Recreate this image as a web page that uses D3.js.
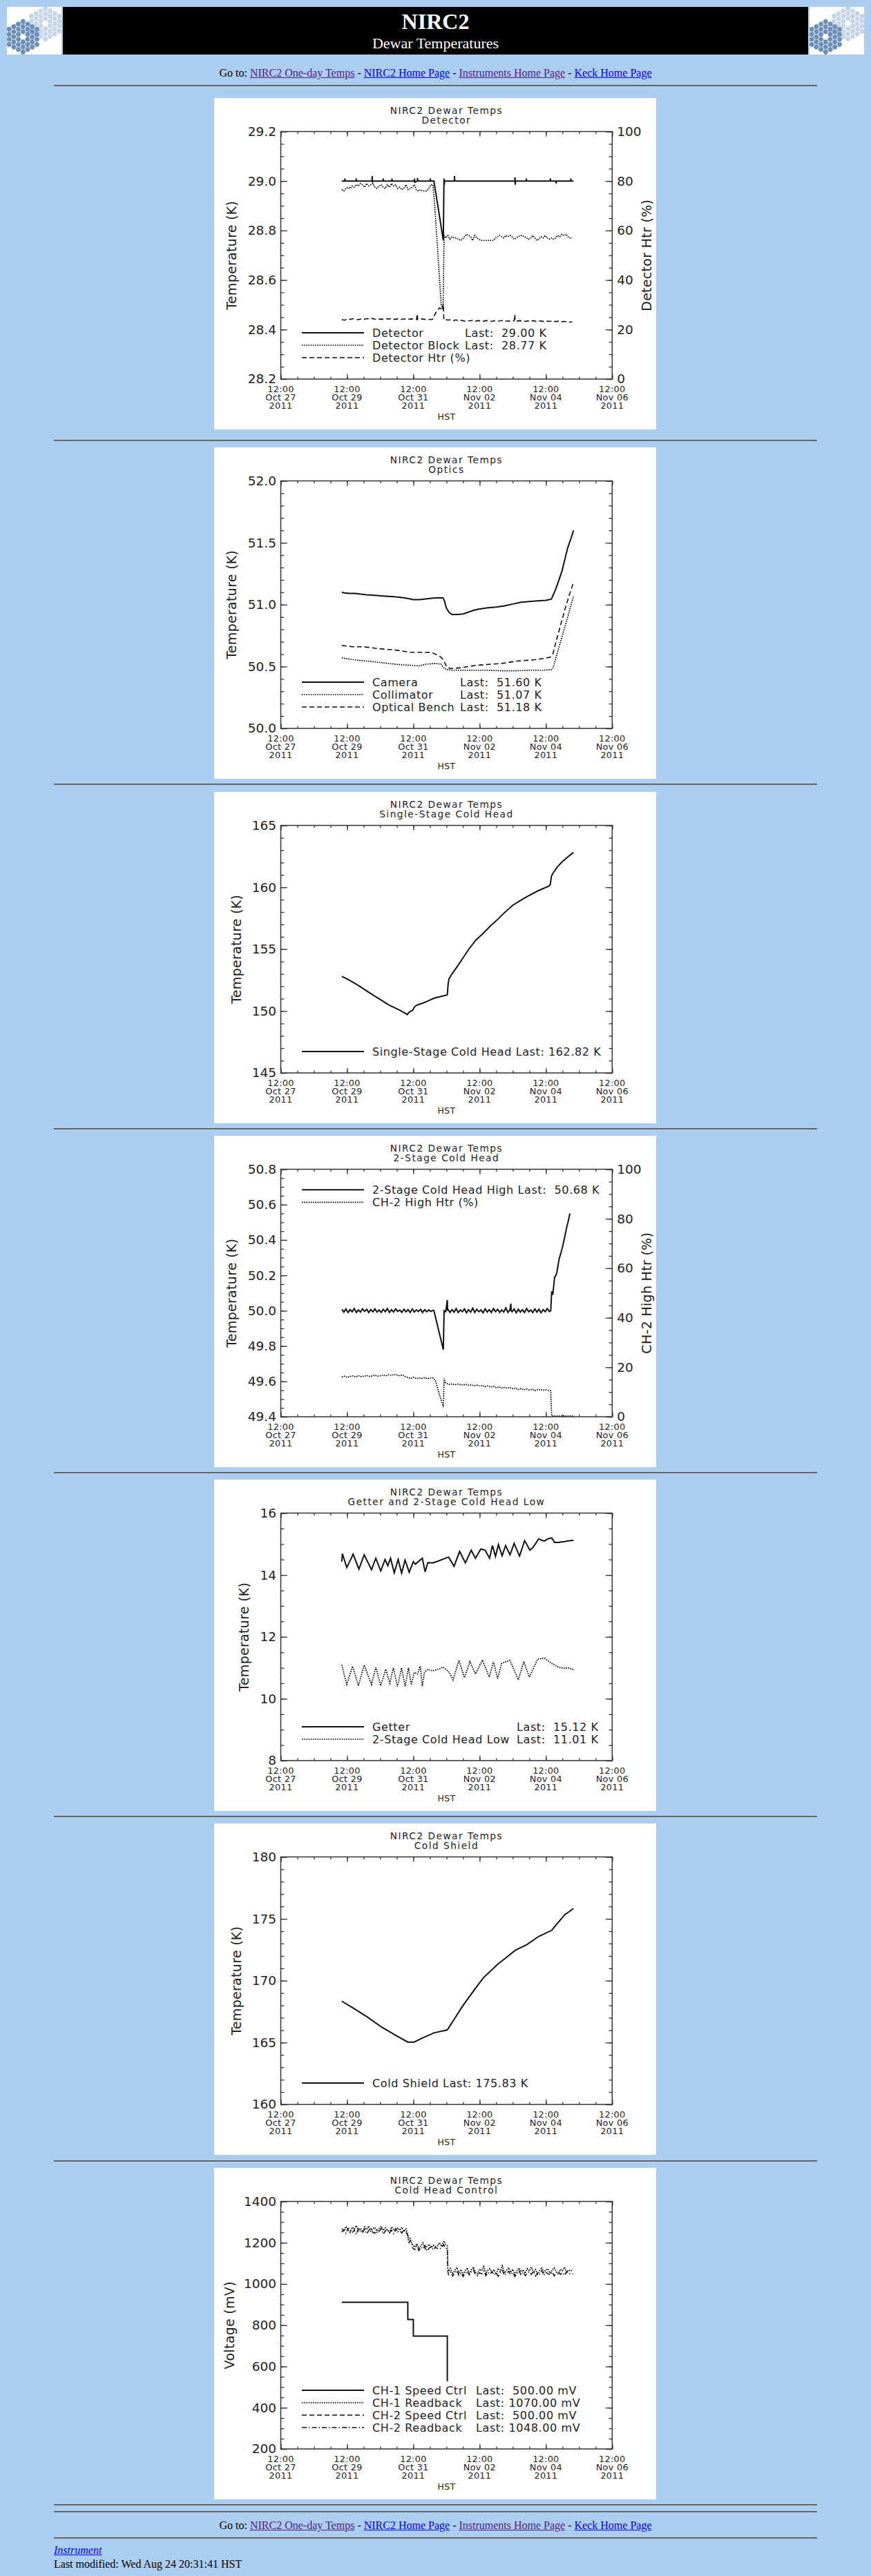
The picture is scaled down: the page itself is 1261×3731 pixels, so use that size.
<!DOCTYPE html>
<html lang="en">
<head>
<meta charset="UTF-8">
<title>NIRC2 Dewar Temperatures</title>
<script src="https://d3js.org/d3.v7.min.js"></script>
<style>
  body { margin: 0; background-color: #abcdef; font-family: "Liberation Serif", "Times New Roman", serif; font-size: 16px; }
  #page { position: relative; width: 1261px; height: 3731px; overflow: hidden; }
  .rule { position: absolute; left: 78px; width: 1105px; height: 0; border-top: 1px solid #4d4d4d; border-bottom: 1px solid #7d7d7d; }
  .goto { position: absolute; left: 0; width: 1261px; text-align: center; line-height: 18px; }
  .foot { position: absolute; left: 78px; line-height: 18px; }
  a { text-decoration: underline; }
  a.seen { color: #551a8b; }
  a.fresh { color: #0000ee; }
  svg.plot { position: absolute; left: 310px; }
  .plot text { font-family: "DejaVu Sans", sans-serif; fill: #222; }
  .plot .ttl { font-size: 13.7px; letter-spacing: 1.5px; text-anchor: middle; }
  .plot .ylab { font-size: 18.5px; }
  .plot .xlab { font-size: 12.8px; letter-spacing: 0.3px; text-anchor: middle; }
  .plot .atitle { font-size: 19px; letter-spacing: 0.3px; text-anchor: middle; }
  .plot .lg { font-size: 16px; letter-spacing: 0.6px; white-space: pre; }
  .plot .ax { color: #333; }
  .plot .ax line { stroke-width: 1.3; }
  .ln { fill: none; stroke: #111; }
  .ln.solid { stroke-width: 2; }
  .ln.dotted { stroke: #000; stroke-width: 1.7; stroke-dasharray: 1.6 1.6; }
  .ln.dashed { stroke-width: 1.6; stroke-dasharray: 7 4; }
  .ln.dashdot { stroke-width: 1.5; stroke-dasharray: 7 3 1.5 3; }
</style>
</head>
<body>
<div id="page">
  <div class="goto" style="top:97px">Go to: <a class="seen" href="#">NIRC2 One-day Temps</a> - <a class="fresh" href="#">NIRC2 Home Page</a> - <a class="seen" href="#">Instruments Home Page</a> - <a class="fresh" href="#">Keck Home Page</a></div>
  <div class="goto" style="top:3649px">Go to: <a class="seen" href="#">NIRC2 One-day Temps</a> - <a class="fresh" href="#">NIRC2 Home Page</a> - <a class="seen" href="#">Instruments Home Page</a> - <a class="fresh" href="#">Keck Home Page</a></div>
  <div class="foot" style="top:3685px"><a class="fresh" href="#"><i>Instrument</i></a></div>
  <div class="foot" style="top:3705px">Last modified: Wed Aug 24 20:31:41 HST</div>
</div>
<script>
// time is hours after 2011-10-27 12:00 HST
const T0 = Date.UTC(2011, 9, 27, 12);
const at = h => new Date(T0 + h * 36e5);
const sampled = (t0, dt, vals) => vals.map((v, i) => [t0 + i * dt, v]);
const byTime = arr => arr.sort((a, b) => a[0] - b[0]);

// ---- Detector ----
const detTicks = [28.2, 28.4, 28.6, 28.8, 29.0, 29.2];
const pctTicks = [0, 20, 40, 60, 80, 100];
const detector = [[44.2,29.0],[46.3,29.0],[46.4,29.01],[46.6,29.0],[54.5,29.0],[54.6,29.01],[54.8,29.0],[66.1,29.0],[66.2,29.02],[66.4,28.995],[66.6,29.0],
  [74.1,29.0],[74.2,29.01],[74.4,29.0],[80.4,29.0],[80.5,29.01],[80.7,29.0],[96.8,29.0],[96.9,29.01],[97.1,28.995],[98.9,29.0],[99.0,29.012],[99.2,29.0],
  [108.2,29.0],[108.3,29.01],[108.5,29.0],[110.9,29.0],[117.7,28.76],[118.2,29.01],[118.4,28.985],[118.6,29.0],[125.7,29.0],[125.8,29.02],[126.0,29.0],
  [169.5,29.0],[169.6,29.015],[169.8,28.985],[170.0,29.0],[177.7,29.0],[177.8,29.01],[178.0,29.0],[195.1,29.0],[195.2,29.01],[195.4,29.0],
  [199.3,29.0],[199.4,28.99],[199.6,29.0],[209.9,29.0],[210.0,29.01],[210.2,29.0],[212.0,29.0]];
const detBlockBefore = [28.965,28.96,28.97,28.975,28.97,28.98,28.975,28.985,28.98,28.99,28.985,28.975,28.99,28.98,28.985,28.99,28.975,28.97,28.98,28.985,
  28.975,28.97,28.985,28.975,28.99,28.98,28.985,28.97,28.975,28.965,28.97,28.985,28.965,28.97,28.975,28.985,28.965,28.96,28.965,28.96,28.96,28.96,28.97,28.985];
const detBlockEvent = [[110.2,28.985],[111.5,28.9],[116.2,28.5],[117.5,28.48],[118.3,28.78]];
const detBlockAfter = [28.77,28.78,28.765,28.775,28.77,28.77,28.765,28.76,28.765,28.775,28.785,28.78,28.775,28.76,28.78,28.77,28.765,28.76,28.76,28.76,
  28.76,28.76,28.76,28.76,28.77,28.775,28.78,28.775,28.77,28.78,28.775,28.78,28.775,28.765,28.77,28.775,28.78,28.78,28.775,28.77,
  28.765,28.77,28.78,28.77,28.76,28.765,28.775,28.77,28.78,28.77,28.765,28.77,28.765,28.77,28.78,28.775,28.785,28.78,28.785,28.775,28.77,28.77];
const detHtrBefore = [24.0,23.8,24.3,24.1,24.4,24.2,24.0,24.3,24.1,24.4,24.2,24.5,24.2,24.0,24.3,24.1,24.4,24.2,24.5,24.1,24.3,24.0,24.2,24.3,24.1,24.3,24.2,24.0,24.2,24.3,24.1,24.2,24.0];
const detHtrEvent = [[98.9,26.3],[99.1,24.1],[110,24.2],[112,26.5],[115,28.8],[117,28.0],[117.7,30.5],[118.1,24.0],[169.5,26.0],[169.7,23.5]];
const detHtrAfter = [24.2,23.8,24.0,23.6,23.9,23.5,23.7,23.4,23.6,23.5,23.7,23.4,23.6,23.5,23.4,23.6,23.5,23.3,23.6,23.4,23.5,23.7,23.5,23.4,
  23.6,23.5,23.4,23.6,23.5,23.3,23.5,23.4,23.6,23.3,23.5,23.4,23.2,23.4,23.3,23.5,23.2,23.4,23.1,23.3,23.2,23.0,23.1];
const detNames = ["Detector", "Detector Block", "Detector Htr (%)"];
const detLast = ["Last:  29.00 K", "Last:  28.77 K", ""];

// ---- Optics ----
const optTicks = [50.0, 50.5, 51.0, 51.5, 52.0];
const camera = [[44.2,51.10],[46,51.095],[50,51.09],[54,51.09],[58,51.085],[62,51.08],[68,51.075],[74,51.07],[80,51.065],[86,51.06],[92,51.05],[96,51.04],
  [100,51.04],[104,51.045],[108,51.05],[112,51.055],[117.5,51.055],[118.5,51.03],[120,50.97],[122,50.935],[124,50.92],[128,50.92],[132,50.925],[136,50.94],
  [140,50.955],[144,50.965],[150,50.975],[156,50.98],[162,50.99],[168,51.005],[174,51.02],[180,51.025],[186,51.03],[192,51.035],[196,51.045],
  [199.3,51.13],[203.6,51.27],[207.8,51.46],[210,51.53],[212,51.60]];
const collimator = [[44.2,50.57],[50,50.56],[56,50.55],[62,50.545],[70,50.535],[78,50.525],[86,50.515],[94,50.51],[100,50.505],[106,50.52],[112,50.525],
  [116,50.52],[118,50.49],[120,50.475],[124,50.47],[130,50.47],[140,50.47],[150,50.47],[160,50.465],[170,50.465],[180,50.47],[190,50.47],[196,50.475],
  [197.2,50.49],[201.5,50.66],[207.8,50.90],[212,51.07]];
const opticalBench = [[44.2,50.67],[48,50.665],[52,50.66],[58,50.66],[64,50.655],[70,50.645],[76,50.64],[82,50.635],[88,50.625],[94,50.615],[100,50.615],
  [106,50.615],[110,50.61],[113,50.595],[116,50.575],[118,50.55],[120,50.5],[122,50.485],[126,50.485],[130,50.49],[136,50.5],[142,50.51],[148,50.515],
  [154,50.52],[160,50.525],[166,50.535],[172,50.545],[178,50.55],[184,50.555],[190,50.565],[195,50.575],[197,50.6],[199.3,50.70],[203,50.85],
  [205.7,50.96],[209,51.08],[212,51.18]];
const optNames = ["Camera", "Collimator", "Optical Bench"];
const optLast = ["Last:  51.60 K", "Last:  51.07 K", "Last:  51.18 K"];

// ---- Single-Stage Cold Head ----
const ssTicks = [145, 150, 155, 160, 165];
const singleStage = [[44.2,152.8],[48,152.6],[52,152.34],[56.2,152.06],[62.5,151.6],[67.8,151.23],[73,150.86],[78.3,150.49],[83.6,150.21],[87.8,149.97],
  [91.6,149.72],[92.5,149.85],[94.1,150.0],[95.5,150.05],[96.6,150.3],[98,150.45],[100.4,150.55],[103,150.65],[106.7,150.82],[110.9,151.04],[115,151.15],
  [120.6,151.3],[121.2,152.2],[121.8,152.6],[124,153.0],[127.8,153.6],[132,154.3],[136.2,155.0],[141,155.7],[146.7,156.3],[152,156.9],[157.2,157.42],
  [162,157.95],[167.8,158.53],[173,158.9],[178.3,159.25],[186,159.7],[194.1,160.1],[195.1,160.2],[196,160.9],[197.2,161.15],[200,161.6],[203.6,162.04],
  [207.8,162.45],[212,162.82]];
const ssNames = ["Single-Stage Cold Head Last: 162.82 K"];

// ---- 2-Stage Cold Head ----
const chhTicks = [49.4, 49.6, 49.8, 50.0, 50.2, 50.4, 50.6, 50.8];
const chHighBefore = [50.008,49.992,50.010,49.990,50.006,49.994,50.012,49.990,50.004,49.992,50.010,49.996,50.008,49.990,50.006,49.994,50.010,49.992,
  50.004,49.990,50.008,49.994,50.012,49.990,50.006,49.992,50.010,49.996,50.004,49.990,50.008,49.994,50.006,49.990,50.010,49.992,50.005,49.995,
  50.008,49.990,50.006,49.994,50.004,49.996,50.002];
const chHighEvent = [[110.9,50.0],[117.7,49.78],[118.3,50.0],[120.6,50.06],[120.8,50.0],[166.6,50.04],[166.8,50.0],
  [195.5,50.0],[196.2,50.11],[197,50.09],[198.3,50.19],[199.3,50.2],[200,50.22],[201.5,50.29],[203,50.33],[204,50.36],[205.7,50.42],[207,50.47],[208,50.5],[209.4,50.55]];
const chHighAfter = [49.995,50.008,49.990,50.006,49.992,50.012,49.990,50.004,49.994,50.010,49.988,50.006,49.992,50.014,49.990,50.008,49.994,50.004,
  49.988,50.010,49.992,50.006,49.990,50.012,49.994,50.008,49.990,50.004,49.992,50.016,49.990,50.006,49.994,50.010,49.988,50.008,49.992,50.006,
  49.990,50.012,49.994,50.004,49.990,50.010,49.992,50.008,49.988,50.006,49.994,50.012,49.995];
const ch2HtrBefore = [16.0,16.4,15.9,16.3,16.5,16.1,16.6,16.2,16.4,16.7,16.3,16.5,16.8,16.4,16.6,16.9,16.5,17.0,16.7,17.1,16.8,16.6,16.9,16.2,15.8,
  15.5,15.9,15.4,15.7,15.5,15.8,15.4,15.6,15.7];
const ch2HtrEvent = [[112,14.5],[116.5,6],[117.7,4.0],[118.3,15.5],[119,14.0],[195.5,10.5],[196.2,0.3],[212,0.3]];
const ch2HtrAfter = [13.5,13.0,13.3,12.9,13.2,13.0,12.8,13.1,12.7,12.9,12.5,12.8,12.4,12.6,12.2,12.5,12.0,12.3,11.8,12.1,11.6,11.9,11.5,11.8,
  11.3,11.6,11.0,11.4,10.9,11.2,10.8,11.1,10.6,10.9,11.0,10.7,10.9,10.6];
const chhNames = ["2-Stage Cold Head High Last:  50.68 K", "CH-2 High Htr (%)"];

// ---- Getter and 2-Stage Cold Head Low ----
const getTicks = [8, 10, 12, 14, 16];
const getter = [[44.2,14.43],[44.6,14.69],[47.8,14.24],[52.4,14.67],[56.6,14.19],[60.4,14.65],[65.7,14.17],[68.8,14.54],[72.4,14.13],[75.5,14.5],
  [77.5,14.3],[79.5,14.54],[82.2,14.07],[85,14.5],[87.5,14.06],[90,14.48],[93,14.09],[96,14.43],[97.5,14.35],[100,14.45],[102.5,14.54],[104.5,14.1],
  [106.5,14.4],[110,14.39],[114,14.45],[118,14.52],[121.5,14.58],[125.5,14.28],[129.5,14.76],[133.7,14.39],[137.9,14.8],[141,14.54],[144.9,14.84],
  [148,14.8],[151.2,14.54],[153.3,14.95],[155.5,14.6],[157.6,14.98],[160.3,14.62],[162.8,14.95],[166,14.65],[169,15.02],[172.9,14.61],[176.6,15.11],
  [180.4,14.8],[182.5,14.88],[184.6,15.02],[186.7,15.17],[189,15.12],[191,15.1],[193.5,15.17],[196.2,15.2],[198.3,15.05],[201.5,15.05],[203,15.07],
  [205.7,15.08],[208,15.1],[212,15.12]];
const chLow = [[44.2,11.09],[47.8,10.46],[52,11.05],[56.2,10.42],[60.4,11.09],[65.7,10.46],[68.8,11.02],[72.4,10.42],[76,10.95],[79,10.5],[81.5,11.0],
  [84.5,10.39],[87.5,11.0],[90,10.4],[92.5,11.0],[94.5,10.45],[96.6,10.85],[99,10.8],[101,11.05],[102.5,10.4],[104,10.85],[106.5,10.95],[110,10.9],
  [114,10.95],[117.7,11.02],[122,10.85],[124.8,10.61],[129,11.24],[133,10.68],[137,11.2],[141,10.8],[146,11.25],[151,10.7],[154,11.2],[157,10.65],
  [160,11.15],[166,11.24],[172,10.61],[176,11.2],[180,10.7],[186,11.28],[191,11.31],[196,11.15],[201,11.02],[205.7,10.98],[208,11.0],[212,10.94]];
const getNames = ["Getter", "2-Stage Cold Head Low"];
const getLast = ["Last:  15.12 K", "Last:  11.01 K"];

// ---- Cold Shield ----
const csTicks = [160, 165, 170, 175, 180];
const coldShield = [[44.2,168.34],[52,167.82],[62.5,167.08],[73,166.25],[83.6,165.56],[92,165.04],[96.6,165.04],[102.5,165.36],[110.9,165.78],
  [120.6,166.02],[125.7,166.9],[132,168.0],[140.4,169.3],[146.7,170.23],[157.2,171.34],[163.6,171.9],[169.9,172.46],[178.3,172.92],[186.7,173.57],
  [196.2,174.07],[199.3,174.5],[205.7,175.33],[212,175.83]];
const csNames = ["Cold Shield Last: 175.83 K"];

// ---- Cold Head Control ----
const chcTicks = [200, 400, 600, 800, 1000, 1200, 1400];
const ch1Speed = [[44.2,911],[92.0,911],[92.0,828],[96.0,828],[96.0,747],[120.6,747],[120.6,528]];
const ch1RbUpper = [1268,1255,1279,1262,1250,1275,1266,1283,1258,1270,1252,1277,1263,1281,1256,1269,1274,1251,1267,1280,1259,1272,1262,1249,1276,1265,1254,1271,1260,1275,1253,1266];
const ch1RbMid = [1190,1178,1195,1172,1186,1199,1170,1183,1192,1176,1188,1180,1185,1200,1182];
const ch1RbLower = [1062,1075,1048,1066,1080,1055,1070,1046,1063,1078,1052,1068,1082,1057,1049,1072,1064,1085,1050,1067,1074,1058,1069,1047,1076,1061,
  1088,1053,1066,1079,1056,1071,1045,1064,1077,1059,1068,1051,1074,1062,1083,1055,1070,1048,1065,1080,1057,1069,1073,1052,1066,1078,1060,1047,1071,
  1064,1081,1056,1068,1062,1070];
const ch1RbSteps = [[92,1240],[92.5,1215],[93.5,1222],[94.5,1205],[118.2,1208],[119.5,1190],[120.6,1185],[121,1075]];
const ch2RbUpper = [1252,1264,1245,1270,1258,1247,1262,1240,1268,1255,1249,1266,1243,1259,1271,1250,1246,1263,1254,1268,1242,1257,1265,1248,1261,1244,1269,1253,1258,1247,1264,1250];
const ch2RbMid = [1175,1166,1183,1162,1178,1170,1186,1160,1174,1181,1165,1177,1172,1168,1176];
const ch2RbLower = [1045,1058,1038,1052,1065,1041,1055,1036,1050,1062,1043,1057,1068,1046,1039,1054,1049,1063,1040,1056,1047,1060,1044,1053,1037,1058,
  1066,1042,1051,1061,1045,1055,1036,1049,1064,1043,1057,1040,1052,1059,1046,1062,1038,1054,1048,1065,1041,1056,1050,1044,1058,1039,1053,1061,1046,
  1055,1042,1060,1049,1051,1048];
const ch2RbSteps = [[92,1235],[92.8,1200],[93.8,1210],[94.8,1190],[118,1190],[119.5,1172],[120.6,1170],[121,1060]];
const chcNames = ["CH-1 Speed Ctrl", "CH-1 Readback", "CH-2 Speed Ctrl", "CH-2 Readback"];
const chcLast = ["Last:  500.00 mV", "Last: 1070.00 mV", "Last:  500.00 mV", "Last: 1048.00 mV"];

// ---- chart specs built from the arrays ----
const charts = [
  { sub: "Detector", yDomain: [28.2, 29.2], yTicks: detTicks, yMinor: 0.05, yFmt: ".1f", yTitle: "Temperature (K)", yTitleX: 32,
    y2Domain: [0, 100], y2Ticks: pctTicks, y2Minor: 5, y2Title: "Detector Htr (%)",
    series: [
      { data: byTime([...sampled(44.2, 2, detHtrBefore), ...detHtrEvent, ...sampled(119, 2, detHtrAfter)]), style: "dashed", axis: 2 },
      { data: byTime([...sampled(44.2, 1.5, detBlockBefore), ...detBlockEvent, ...sampled(119.5, 1.5, detBlockAfter)]), style: "dotted" },
      { data: detector, style: "solid" }],
    legend: { names: detNames, last: detLast, styles: ["solid", "dotted", "dashed"], lastX: 363 } },
  { sub: "Optics", yDomain: [50, 52], yTicks: optTicks, yMinor: 0.1, yFmt: ".1f", yTitle: "Temperature (K)", yTitleX: 32,
    series: [{ data: collimator, style: "dotted" }, { data: opticalBench, style: "dashed" }, { data: camera, style: "solid" }],
    legend: { names: optNames, last: optLast, styles: ["solid", "dotted", "dashed"], lastX: 356 } },
  { sub: "Single-Stage Cold Head", yDomain: [145, 165], yTicks: ssTicks, yMinor: 1, yFmt: "d", yTitle: "Temperature (K)", yTitleX: 38.5,
    series: [{ data: singleStage, style: "solid" }],
    legend: { names: ssNames, styles: ["solid"] } },
  { sub: "2-Stage Cold Head", yDomain: [49.4, 50.8], yTicks: chhTicks, yMinor: 0.05, yFmt: ".1f", yTitle: "Temperature (K)", yTitleX: 32,
    y2Domain: [0, 100], y2Ticks: pctTicks, y2Minor: 5, y2Title: "CH-2 High Htr (%)",
    series: [
      { data: byTime([...sampled(44.2, 2, ch2HtrBefore), ...ch2HtrEvent, ...sampled(120, 2, ch2HtrAfter)]), style: "dotted", axis: 2 },
      { data: byTime([...sampled(44.2, 1.5, chHighBefore), ...chHighEvent, ...sampled(119.5, 1.5, chHighAfter)]), style: "solid" }],
    legend: { names: chhNames, styles: ["solid", "dotted"], top: true } },
  { sub: "Getter and 2-Stage Cold Head Low", yDomain: [8, 16], yTicks: getTicks, yMinor: 0.5, yFmt: "d", yTitle: "Temperature (K)", yTitleX: 50,
    series: [{ data: chLow, style: "dotted" }, { data: getter, style: "solid" }],
    legend: { names: getNames, last: getLast, styles: ["solid", "dotted"], lastX: 438 } },
  { sub: "Cold Shield", yDomain: [160, 180], yTicks: csTicks, yMinor: 1, yFmt: "d", yTitle: "Temperature (K)", yTitleX: 38.5,
    series: [{ data: coldShield, style: "solid" }],
    legend: { names: csNames, styles: ["solid"] } },
  { sub: "Cold Head Control", yDomain: [200, 1400], yTicks: chcTicks, yMinor: 50, yFmt: "d", yTitle: "Voltage (mV)", yTitleX: 28.5,
    series: [
      { data: byTime([...sampled(44.2, 1.5, ch1RbUpper), ...ch1RbSteps, ...sampled(95.5, 1.5, ch1RbMid), ...sampled(121.5, 1.5, ch1RbLower)]), style: "dotted" },
      { data: byTime([...sampled(44.2, 1.5, ch2RbUpper), ...ch2RbSteps, ...sampled(95.5, 1.5, ch2RbMid), ...sampled(121.5, 1.5, ch2RbLower)]), style: "dashdot" },
      { data: ch1Speed, style: "solid" }],
    legend: { names: chcNames, last: chcLast, styles: ["solid", "dotted", "dashed", "dashdot"], lastX: 379 } }
];

// page layout
const panelTops = [142, 648, 1147, 1645, 2143, 2641, 3140];
const ruleYs = [124, 638, 1136, 1635, 2133, 2631, 3130, 3628, 3638, 3676];
const page = d3.select("#page");
ruleYs.forEach(y => page.append("div").attr("class", "rule").style("top", (y - 1) + "px"));

// header banner with the hexagon logos
const head = page.append("svg").attr("width", 1261).attr("height", 90).style("position", "absolute").style("left", 0).style("top", 0);
head.append("rect").attr("x", 91).attr("y", 10).attr("width", 1079).attr("height", 69).attr("fill", "#000");
head.append("defs").append("clipPath").attr("id", "logoclip").append("rect").attr("width", 79).attr("height", 69);
function hexPath(cx, cy, r) {
  return "M" + d3.range(6).map(i => [cx + r * Math.cos(i * Math.PI / 3), cy + r * Math.sin(i * Math.PI / 3)].join(",")).join("L") + "Z";
}
function cluster(g, cx, cy, fill) {
  for (let q = -3; q <= 3; q++) for (let r = -3; r <= 3; r++) {
    if (Math.max(Math.abs(q), Math.abs(r), Math.abs(q + r)) > 3 || (q === 0 && r === 0)) continue;
    g.append("path").attr("d", hexPath(cx + 6.7 * q, cy + 7.35 * (r + q / 2), 3.9)).attr("fill", fill);
  }
}
[10, 1172].forEach(lx => {
  const g = head.append("g").attr("transform", `translate(${lx},10)`).attr("clip-path", "url(#logoclip)");
  g.append("rect").attr("width", 79).attr("height", 69).attr("fill", "#fff");
  cluster(g, 55.7, 24.3, "#c6d5e6");
  cluster(g, 23.3, 43.3, "#6b8fb7");
});
head.append("text").attr("x", 630.5).attr("y", 42).attr("text-anchor", "middle").attr("fill", "#fff")
  .style("font", "bold 32px 'Liberation Serif', serif").text("NIRC2");
head.append("text").attr("x", 630.5).attr("y", 70).attr("text-anchor", "middle").attr("fill", "#fff")
  .style("font", "22px 'Liberation Serif', serif").text("Dewar Temperatures");

// plot geometry inside each 640x480 panel
const M = { left: 96.5, right: 576.3, top: 48.5, bottom: 407 };
const fmtH = d3.utcFormat("%H:%M"), fmtD = d3.utcFormat("%b %d"), fmtY = d3.utcFormat("%Y");
const xMajor = d3.range(0, 241, 48).map(at);
const xMinor = d3.range(0, 241, 12).map(at);
const minorOf = (dom, step) => d3.range(Math.round((dom[1] - dom[0]) / step) + 1).map(i => dom[0] + i * step);

function drawChart(spec, idx) {
  const svg = page.append("svg").attr("class", "plot").attr("width", 640).attr("height", 480).style("top", panelTops[idx] + "px");
  svg.append("rect").attr("width", 640).attr("height", 480).attr("fill", "#fff");
  const x = d3.scaleUtc().domain([at(0), at(240)]).range([M.left, M.right]);
  const y = d3.scaleLinear().domain(spec.yDomain).range([M.bottom, M.top]);
  const y2 = spec.y2Domain ? d3.scaleLinear().domain(spec.y2Domain).range([M.bottom, M.top]) : null;
  const cx = (M.left + M.right) / 2;

  svg.append("text").attr("class", "ttl").attr("x", cx).attr("y", 23.3).text("NIRC2 Dewar Temps");
  svg.append("text").attr("class", "ttl").attr("x", cx).attr("y", 37.3).text(spec.sub);

  svg.append("clipPath").attr("id", "clip" + idx).append("rect")
    .attr("x", M.left).attr("y", M.top).attr("width", M.right - M.left).attr("height", M.bottom - M.top);
  const plot = svg.append("g").attr("clip-path", `url(#clip${idx})`);
  spec.series.forEach(s => {
    const sc = s.axis === 2 ? y2 : y;
    plot.append("path").attr("class", "ln " + s.style)
      .attr("d", d3.line().x(d => x(at(d[0]))).y(d => sc(d[1]))(s.data));
  });

  // frame and inward ticks on all four sides
  svg.append("rect").attr("x", M.left).attr("y", M.top).attr("width", M.right - M.left).attr("height", M.bottom - M.top)
    .attr("fill", "none").attr("stroke", "#333").attr("stroke-width", 1.5);
  const ax = (axis, tx, ty) => svg.append("g").attr("class", "ax").attr("transform", `translate(${tx},${ty})`)
    .call(axis).call(g => g.select(".domain").remove());
  ax(d3.axisBottom(x).tickValues(xMajor).tickSize(-7.2).tickFormat(""), 0, M.bottom);
  ax(d3.axisBottom(x).tickValues(xMinor).tickSize(-3.6).tickFormat(""), 0, M.bottom);
  ax(d3.axisTop(x).tickValues(xMajor).tickSize(-7.2).tickFormat(""), 0, M.top);
  ax(d3.axisTop(x).tickValues(xMinor).tickSize(-3.6).tickFormat(""), 0, M.top);
  ax(d3.axisLeft(y).tickValues(minorOf(spec.yDomain, spec.yMinor)).tickSize(-4.8).tickFormat(""), M.left, 0);
  ax(d3.axisLeft(y).tickValues(spec.yTicks).tickSize(-9.6).tickPadding(6.5).tickFormat(d3.format(spec.yFmt)), M.left, 0)
    .selectAll("text").attr("class", "ylab");
  if (y2) {
    ax(d3.axisRight(y2).tickValues(minorOf(spec.y2Domain, spec.y2Minor)).tickSize(-4.8).tickFormat(""), M.right, 0);
    ax(d3.axisRight(y2).tickValues(spec.y2Ticks).tickSize(-9.6).tickPadding(7).tickFormat(d3.format("d")), M.right, 0)
      .selectAll("text").attr("class", "ylab");
  } else {
    ax(d3.axisRight(y).tickValues(minorOf(spec.yDomain, spec.yMinor)).tickSize(-4.8).tickFormat(""), M.right, 0);
    ax(d3.axisRight(y).tickValues(spec.yTicks).tickSize(-9.6).tickFormat(""), M.right, 0);
  }
  // empty label nodes from the unlabeled axes are not needed
  svg.selectAll(".ax text").filter(function () { return !this.textContent; }).remove();

  // three-line date labels
  xMajor.forEach(t => {
    const tx = svg.append("text").attr("class", "xlab");
    [fmtH, fmtD, fmtY].forEach((f, i) => tx.append("tspan").attr("x", x(t)).attr("y", 426.3 + 11.7 * i).text(f(t)));
  });
  svg.append("text").attr("class", "xlab").attr("x", cx).attr("y", 465.5).style("font-size", "12.5px").text("HST");

  const my = (M.top + M.bottom) / 2;
  svg.append("text").attr("class", "atitle").attr("transform", `translate(${spec.yTitleX},${my}) rotate(-90)`).text(spec.yTitle);
  if (spec.y2Title) {
    svg.append("text").attr("class", "atitle").attr("transform", `translate(633,${my}) rotate(-90)`).text(spec.y2Title);
  }

  // legend
  const L = spec.legend, n = L.names.length;
  L.names.forEach((name, i) => {
    const yc = L.top ? 78.3 + 18 * i : 376 - 18 * (n - 1 - i);
    svg.append("line").attr("class", "ln " + L.styles[i]).attr("x1", 127).attr("x2", 217).attr("y1", yc).attr("y2", yc);
    svg.append("text").attr("class", "lg").attr("x", 229).attr("y", yc + 5.8).text(name);
    if (L.last && L.last[i]) svg.append("text").attr("class", "lg").attr("x", L.lastX).attr("y", yc + 5.8).text(L.last[i]);
  });
}

charts.forEach(drawChart);
</script>
</body>
</html>
